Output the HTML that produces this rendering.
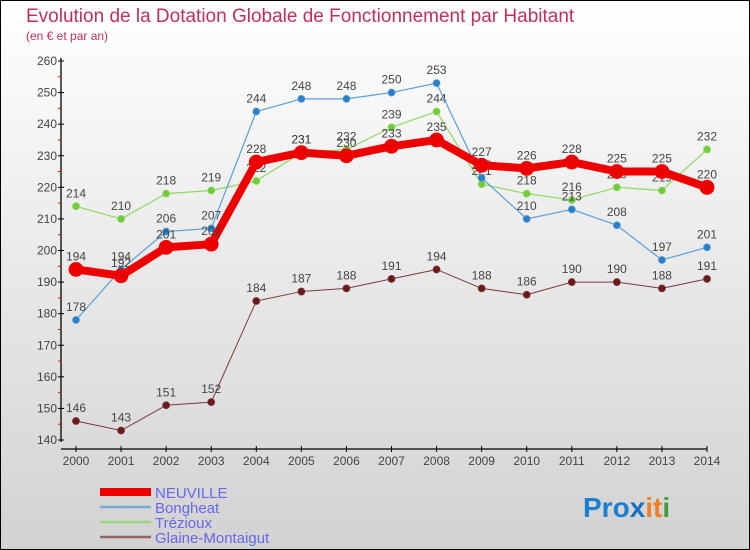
<!DOCTYPE html>
<html><head><meta charset="utf-8"><style>
body{margin:0;}
svg{display:block;font-family:"Liberation Sans",sans-serif;}
</style></head><body>
<svg id="c" width="750" height="550" xmlns="http://www.w3.org/2000/svg">
<defs><linearGradient id="bg" x1="0" y1="0" x2="0" y2="1"><stop offset="0" stop-color="#ffffff"/><stop offset="1" stop-color="#d2d2d2"/></linearGradient></defs>
<rect x="0.5" y="0.5" width="749" height="549" fill="url(#bg)" stroke="#000"/>
<text x="26" y="22" font-size="19" fill="#c0305a">Evolution de la Dotation Globale de Fonctionnement par Habitant</text>
<text x="26" y="40" font-size="12" fill="#c0305a">(en € et par an)</text>
<g id="axes"></g><g id="series"></g><g id="legend"></g>
<text x="583" y="517" font-size="28" font-weight="bold"><tspan fill="#1a7fd0">Pro</tspan><tspan fill="#1a6fc0">x</tspan><tspan fill="#f08020">it</tspan><tspan fill="#40a040">i</tspan></text>
</svg>
<script>
const years=[2000,2001,2002,2003,2004,2005,2006,2007,2008,2009,2010,2011,2012,2013,2014];
const yTicks=[140,150,160,170,180,190,200,210,220,230,240,250,260];
const neuville=[194,192,201,202,228,231,230,233,235,227,226,228,225,225,220];
const bongheat=[178,194,206,207,244,248,248,250,253,223,210,213,208,197,201];
const trezioux=[214,210,218,219,222,231,232,239,244,221,218,216,220,219,232];
const glaine=[146,143,151,152,184,187,188,191,194,188,186,190,190,188,191];
const NS="http://www.w3.org/2000/svg";
const X=i=>76+i*(707-76)/14;
const Y=v=>440-(v-140)*(440-61)/120;
function mk(t,a,p){const e=document.createElementNS(NS,t);for(const k in a)e.setAttribute(k,a[k]);p.appendChild(e);return e;}
const ax=document.getElementById('axes');
let e=mk('line',{x1:61,y1:58,x2:61,y2:442,stroke:'#000','stroke-width':1.3},ax);


e=mk('line',{x1:61,y1:449,x2:707,y2:449,stroke:'#000','stroke-width':1.3},ax);


yTicks.forEach((v,i)=>{
 mk('line',{x1:58,y1:Y(v),x2:64,y2:Y(v),stroke:'#000'},ax);
 if(i<yTicks.length-1) mk('line',{x1:58,y1:Y(v+5),x2:61,y2:Y(v+5),stroke:'#f00'},ax);
 const t=mk('text',{x:57,y:Y(v)+4,'font-size':12,fill:'#444','text-anchor':'end'},ax);t.textContent=v;
 
 
});
years.forEach((y,i)=>{
 mk('line',{x1:X(i),y1:446,x2:X(i),y2:452,stroke:'#000'},ax);
 const t=mk('text',{x:X(i),y:465,'font-size':12,fill:'#444','text-anchor':'middle'},ax);t.textContent=y;
 
 
});
const sg=document.getElementById('series');
function series(data,color,dot,w,r,name){
 const g=mk('g',{},sg);
 
 
 mk('polyline',{points:data.map((v,i)=>X(i)+','+Y(v)).join(' '),fill:'none',stroke:color,'stroke-width':w,'stroke-linejoin':'round'},g);
 data.forEach((v,i)=>{
  const c=mk('circle',{cx:X(i),cy:Y(v),r:r,fill:dot,stroke:color,'stroke-width':0.8},g);
  
  
  const t=mk('text',{x:X(i),y:Y(v)-9,'font-size':12,fill:'#444','text-anchor':'middle'},g);t.textContent=v;
  
  
 });
}
series(glaine,'#7a3a3a','#6a1a1a',1,3.5,'glaine-montaigut');
series(trezioux,'#8ed860','#6fcc3a',1.2,3.5,'trezioux');
series(bongheat,'#5a9ed8','#2a80c8',1.2,3.5,'bongheat');
series(neuville,'#ee0000','#ee0000',8,7,'neuville');
const lg=document.getElementById('legend');
const items=[['NEUVILLE','#ee0000',8],['Bongheat','#7aaad8',2.5],['Trézioux','#9ad878',2.5],['Glaine-Montaigut','#9a6060',2.5]];
items.forEach((it,i)=>{
 const y=492+i*15;
 const g=mk('g',{},lg);
 
 
 mk('line',{x1:100,y1:y,x2:151,y2:y,stroke:it[1],'stroke-width':it[2]},g);
 const t=mk('text',{x:155,y:y+6,'font-size':15,fill:'#6666ee'},g);t.textContent=it[0];
});
</script>
</body></html>
